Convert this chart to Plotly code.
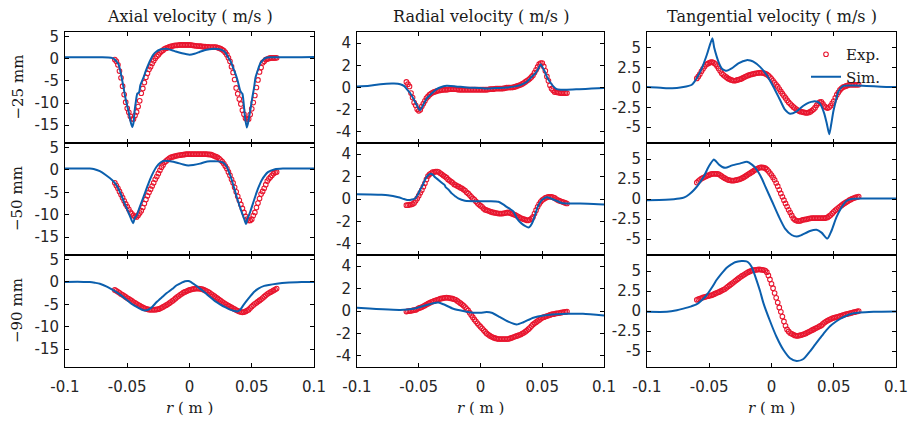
import plotly.graph_objects as go

# ---------------- data (r in mm, velocities in m/s) ----------------
# Experimental points are read at two interleaved r grids (main + midpoints)
R_EXP_MM = [-60, -57.5, -55, -52.5, -50, -47.5, -45, -42.5, -40, -37.5, -35, -32.5, -30, -27.5, -25,
            -22.5, -20, -17.5, -15, -12.5, -10, -7.5, -5, -2.5, 0, 2.5, 5, 7.5, 10, 12.5, 15, 17.5,
            20, 22.5, 25, 27.5, 30, 32.5, 35, 37.5, 40, 42.5, 45, 47.5, 50, 52.5, 55, 57.5, 60,
            62.5, 65, 67.5, 70]
R_EXP_MID_MM = [-58.75, -56.25, -53.75, -51.25, -48.75, -46.25, -43.75, -41.25, -38.75, -36.25, -33.75,
                -31.25, -28.75, -26.25, -23.75, -21.25, -18.75, -16.25, -13.75, -11.25, -8.75, -6.25,
                -3.75, -1.25, 1.25, 3.75, 6.25, 8.75, 11.25, 13.75, 16.25, 18.75, 21.25, 23.75, 26.25,
                28.75, 31.25, 33.75, 36.25, 38.75, 41.25, 43.75, 46.25, 48.75, 51.25, 53.75, 56.25,
                58.75, 61.25, 63.75, 66.25, 68.75]

EXP_AX_25 = [-0.2, -1.4, -4.3, -8.1, -11.2, -13.0, -13.6, -12.0, -9.5, -6.7, -4.2, -2.4, -1.1, 0.1, 0.9,
             1.65, 2.2, 2.5, 2.75, 2.95, 3.0, 3.1, 3.1, 3.1, 3.1, 3.0, 2.9, 2.85, 2.75, 2.7, 2.65, 2.6,
             2.6, 2.5, 2.25, 1.8, 0.9, -0.6, -3.1, -6.6, -9.1, -11.6, -13.4, -13.6, -11.3, -8.3, -4.8,
             -2.0, -0.6, -0.1, 0.15, 0.15, 0.2]
EXP_AX_25_MID = [-0.6, -2.8, -6.2, -9.8, -12.1, -13.6, -12.8, -10.8, -7.8, -5.4, -3.3, -1.8, -0.5, 0.55,
                 1.3, 1.9, 2.35, 2.65, 2.85, 3.0, 3.05, 3.1, 3.1, 3.1, 3.05, 2.95, 2.85, 2.8, 2.7, 2.65,
                 2.6, 2.6, 2.6, 2.4, 2.05, 1.4, 0.2, -1.8, -4.7, -7.9, -10.2, -12.5, -13.7, -12.6, -9.9,
                 -6.5, -3.0, -0.9, -0.2, 0.05, 0.15, 0.15]
EXP_AX_50 = [-2.9, -4.1, -5.5, -6.9, -8.2, -9.4, -10.2, -10.5, -9.6, -8.4, -6.6, -5.0, -3.6, -2.1, -0.8,
             0.6, 1.7, 2.3, 2.8, 3.0, 3.2, 3.3, 3.4, 3.5, 3.5, 3.5, 3.5, 3.5, 3.5, 3.5, 3.45, 3.4,
             3.1, 2.8, 2.2, 1.4, 0.3, -1.2, -2.9, -4.9, -6.8, -8.6, -10.4, -11.3, -11.0, -9.5, -7.4,
             -5.4, -4.1, -2.5, -1.6, -0.8, -0.5]
EXP_AX_50_MID = [-3.5, -4.8, -6.2, -7.6, -8.8, -9.8, -10.4, -10.1, -9.1, -7.5, -5.8, -4.3, -2.9, -1.5,
                 -0.1, 1.1, 2.0, 2.6, 2.9, 3.1, 3.25, 3.35, 3.45, 3.5, 3.5, 3.5, 3.5, 3.5, 3.5, 3.5,
                 3.45, 3.25, 2.95, 2.5, 1.85, 0.85, -0.45, -2.1, -3.9, -5.9, -7.7, -9.5, -11.0, -11.3,
                 -10.2, -8.4, -6.4, -4.8, -3.3, -2.0, -1.2, -0.6]
EXP_AX_90 = [-1.8, -2.2, -2.7, -3.1, -3.6, -4.0, -4.5, -4.9, -5.3, -5.7, -6.0, -6.2, -6.2, -6.2, -6.1,
             -5.8, -5.4, -5.0, -4.5, -4.0, -3.4, -2.9, -2.4, -2.1, -1.8, -1.6, -1.5, -1.5, -1.6, -1.9,
             -2.2, -2.7, -3.2, -3.7, -4.2, -4.7, -5.1, -5.5, -5.9, -6.3, -6.6, -6.8, -6.6, -6.2, -5.5,
             -4.9, -4.4, -3.9, -3.3, -2.7, -2.3, -1.9, -1.5]
EXP_AX_90_MID = [-2.0, -2.45, -2.9, -3.35, -3.8, -4.25, -4.7, -5.1, -5.5, -5.85, -6.1, -6.2, -6.2, -6.15,
                 -5.95, -5.6, -5.2, -4.75, -4.25, -3.7, -3.15, -2.65, -2.25, -1.95, -1.7, -1.55, -1.5,
                 -1.55, -1.75, -2.05, -2.45, -2.95, -3.45, -3.95, -4.45, -4.9, -5.3, -5.7, -6.1, -6.45,
                 -6.7, -6.75, -6.4, -5.85, -5.2, -4.65, -4.15, -3.6, -3.0, -2.5, -2.1, -1.7]
EXP_RA_25 = [0.5, 0.1, -0.9, -1.6, -2.1, -1.7, -1.2, -0.8, -0.55, -0.4, -0.3, -0.25, -0.2, -0.2, -0.15,
             -0.15, -0.15, -0.2, -0.2, -0.2, -0.2, -0.2, -0.2, -0.2, -0.2, -0.2, -0.2, -0.15, -0.15,
             -0.1, -0.1, -0.1, -0.05, 0, 0, 0.05, 0.15, 0.25, 0.4, 0.6, 0.8, 1.1, 1.6, 2.1, 2.2, 1.5,
             0.6, -0.1, -0.4, -0.45, -0.5, -0.5, -0.5]
EXP_RA_25_MID = [0.3, -0.5, -1.35, -1.95, -2.0, -1.45, -0.95, -0.65, -0.45, -0.35, -0.28, -0.22, -0.2,
                 -0.18, -0.15, -0.15, -0.18, -0.2, -0.2, -0.2, -0.2, -0.2, -0.2, -0.2, -0.2, -0.2,
                 -0.18, -0.15, -0.12, -0.1, -0.1, -0.08, -0.02, 0, 0.02, 0.1, 0.2, 0.32, 0.5, 0.7, 0.95,
                 1.35, 1.85, 2.2, 1.9, 1.0, 0.2, -0.25, -0.42, -0.48, -0.5, -0.5]
EXP_RA_50 = [-0.55, -0.5, -0.45, -0.15, 0.3, 0.8, 1.4, 2.05, 2.3, 2.4, 2.45, 2.3, 2.1, 1.9, 1.65, 1.45,
             1.25, 1.1, 0.95, 0.75, 0.5, 0.2, -0.05, -0.35, -0.6, -0.85, -1.0, -1.1, -1.2, -1.25, -1.3,
             -1.3, -1.25, -1.2, -1.3, -1.4, -1.55, -1.7, -1.8, -1.9, -1.85, -1.6, -1.0, -0.45, -0.1,
             0.1, 0.2, 0.2, 0.1, -0.1, -0.2, -0.3, -0.4]
EXP_RA_50_MID = [-0.55, -0.5, -0.35, 0.05, 0.55, 1.1, 1.75, 2.2, 2.4, 2.45, 2.4, 2.2, 2.0, 1.75, 1.55,
                 1.3, 1.15, 1.0, 0.85, 0.6, 0.35, 0.05, -0.2, -0.5, -0.7, -0.95, -1.05, -1.15, -1.22,
                 -1.28, -1.3, -1.28, -1.22, -1.25, -1.35, -1.45, -1.62, -1.75, -1.85, -1.9, -1.75, -1.3,
                 -0.7, -0.25, 0, 0.15, 0.2, 0.15, 0, -0.15, -0.25, -0.35]
EXP_RA_90 = [-0.05, 0, 0.05, 0.1, 0.25, 0.35, 0.5, 0.65, 0.8, 0.9, 1.0, 1.1, 1.15, 1.2, 1.15, 1.1, 1.0,
             0.8, 0.6, 0.35, 0.05, -0.35, -0.75, -1.1, -1.4, -1.7, -2.0, -2.2, -2.35, -2.45, -2.5,
             -2.5, -2.5, -2.5, -2.4, -2.3, -2.2, -2.1, -1.95, -1.75, -1.5, -1.2, -1.0, -0.8, -0.6,
             -0.5, -0.4, -0.3, -0.25, -0.2, -0.15, -0.1, -0.05]
EXP_RA_90_MID = [-0.02, 0.02, 0.08, 0.17, 0.3, 0.42, 0.58, 0.72, 0.85, 0.95, 1.05, 1.12, 1.18, 1.18, 1.12,
                 1.05, 0.9, 0.7, 0.48, 0.2, -0.15, -0.55, -0.92, -1.25, -1.55, -1.85, -2.1, -2.28, -2.4,
                 -2.48, -2.5, -2.5, -2.5, -2.45, -2.35, -2.25, -2.15, -2.02, -1.85, -1.62, -1.35, -1.1,
                 -0.9, -0.7, -0.55, -0.45, -0.35, -0.28, -0.22, -0.18, -0.12, -0.08]
EXP_TA_25 = [1.15, 1.7, 2.35, 2.9, 3.1, 3.2, 2.95, 2.4, 1.8, 1.45, 1.15, 0.95, 0.85, 0.95, 1.05, 1.25,
             1.45, 1.6, 1.7, 1.8, 1.85, 1.85, 1.75, 1.5, 1.1, 0.6, 0.1, -0.5, -1.05, -1.6, -2.05,
             -2.45, -2.75, -3.0, -3.1, -3.2, -3.15, -2.9, -2.55, -2.0, -1.8, -2.35, -2.6, -2.3, -1.7,
             -0.9, -0.3, 0.05, 0.2, 0.35, 0.35, 0.35, 0.35]
EXP_TA_25_MID = [1.4, 2.05, 2.65, 3.0, 3.2, 3.1, 2.7, 2.1, 1.6, 1.3, 1.05, 0.9, 0.88, 1.0, 1.15, 1.35,
                 1.52, 1.65, 1.75, 1.83, 1.87, 1.82, 1.65, 1.32, 0.85, 0.35, -0.2, -0.78, -1.32, -1.85,
                 -2.25, -2.6, -2.88, -3.05, -3.15, -3.2, -3.05, -2.75, -2.25, -1.85, -2.05, -2.5, -2.5,
                 -2.0, -1.3, -0.6, -0.1, 0.12, 0.28, 0.35, 0.35, 0.35]
EXP_TA_50 = [2.05, 2.4, 2.65, 2.85, 3.0, 3.15, 3.15, 3.1, 2.85, 2.6, 2.4, 2.3, 2.3, 2.4, 2.5, 2.7, 2.95,
             3.2, 3.45, 3.7, 3.9, 3.95, 3.85, 3.5, 3.0, 2.4, 1.6, 0.7, -0.15, -0.95, -1.7, -2.4, -2.7,
             -2.75, -2.6, -2.55, -2.45, -2.4, -2.4, -2.4, -2.4, -2.4, -2.3, -2.0, -1.6, -1.25, -0.95,
             -0.65, -0.4, -0.15, 0.05, 0.2, 0.3]
EXP_TA_50_MID = [2.25, 2.55, 2.75, 2.95, 3.1, 3.15, 3.15, 3.0, 2.72, 2.5, 2.35, 2.3, 2.35, 2.45, 2.6, 2.82,
                 3.08, 3.32, 3.58, 3.8, 3.95, 3.92, 3.7, 3.25, 2.7, 2.0, 1.15, 0.28, -0.55, -1.35, -2.05,
                 -2.6, -2.75, -2.7, -2.57, -2.5, -2.42, -2.4, -2.4, -2.4, -2.4, -2.35, -2.15, -1.8,
                 -1.42, -1.1, -0.8, -0.52, -0.28, -0.05, 0.12, 0.25]
EXP_TA_90 = [1.4, 1.55, 1.7, 1.8, 1.9, 2.0, 2.2, 2.35, 2.55, 2.75, 3.05, 3.35, 3.65, 3.95, 4.25, 4.5,
             4.75, 4.95, 5.1, 5.15, 5.2, 5.15, 5.05, 4.45, 3.4, 2.25, 1.05, -0.1, -1.3, -2.3, -2.75,
             -2.95, -3.1, -3.05, -2.95, -2.8, -2.6, -2.4, -2.2, -2.0, -1.8, -1.45, -1.2, -1.0, -0.85,
             -0.75, -0.65, -0.5, -0.4, -0.3, -0.2, -0.1, 0]
EXP_TA_90_MID = [1.48, 1.62, 1.75, 1.85, 1.95, 2.1, 2.28, 2.45, 2.65, 2.9, 3.2, 3.5, 3.8, 4.1, 4.38, 4.62,
                 4.85, 5.02, 5.12, 5.18, 5.18, 5.12, 4.85, 3.95, 2.85, 1.65, 0.45, -0.7, -1.85, -2.55,
                 -2.85, -3.05, -3.1, -3.0, -2.88, -2.7, -2.5, -2.3, -2.1, -1.9, -1.62, -1.32, -1.1,
                 -0.92, -0.8, -0.7, -0.58, -0.45, -0.35, -0.25, -0.15, -0.05]

SIM_AX_25_R = [-100, -90, -80, -70, -63, -61, -59, -57, -55, -53, -51, -49, -47.5, -46, -45, -44, -43, -42,
               -41.5, -40.5, -39.5, -37, -35, -33, -31, -29, -26.5, -24, -21, -18, -14, -11, -6, 0, 4,
               8, 12, 16, 20, 24, 27, 29, 31, 33, 35, 37, 39, 40.5, 41.5, 42.5, 43.5, 44.5, 46, 47, 48,
               49.5, 50.5, 52, 53, 55, 57, 59, 61, 65, 70, 80, 90, 100]
SIM_AX_25_V = [0.3, 0.3, 0.3, 0.3, 0.2, 0.0, -0.5, -1.3, -3.5, -6.5, -9.5, -11.8, -14, -15.4, -14.5,
               -11.6, -9.5, -7.9, -7.8, -7.6, -6, -4.3, -2.7, -1.3, -0.1, 0.9, 1.6, 2.0, 2.2, 2.2, 1.9,
               1.6, 1.2, 0.9, 1.1, 1.5, 1.9, 2.1, 2.2, 2.1, 1.8, 1.3, 0.3, -0.6, -2, -3.5, -5.3, -7.0,
               -7.6, -7.9, -10, -13, -15.5, -14.5, -13, -10.5, -8.7, -6.3, -4.3, -2.5, -1, -0.3, 0.15,
               0.3, 0.3, 0.3, 0.3, 0.35]
SIM_AX_50_R = [-100, -80, -77, -72, -67, -62, -58.5, -55, -52, -48, -45.3, -44, -42.5, -40, -37, -34,
               -31.5, -29, -26.5, -23.5, -21, -17, -13, -10, -5, -1, 3, 8.4, 12, 16.5, 23, 27, 30, 32,
               34, 38, 42, 44, 45.4, 46.5, 48.6, 52.6, 55, 58, 63, 68.7, 75, 100]
SIM_AX_50_V = [0.3, 0.3, 0.2, -0.3, -1.2, -2.3, -3.5, -5.5, -7.6, -10.2, -11.9, -10.8, -10.2, -8.3, -6.1,
               -3.8, -2, -0.5, 0.7, 1.6, 2.0, 2.0, 1.8, 1.6, 1.2, 1.0, 1.1, 1.4, 1.7, 1.9, 1.9, 1.6, 0.7,
               -0.7, -2.3, -6.1, -9.5, -11.0, -12.1, -11, -9.5, -6.1, -4.2, -2.3, -0.5, 0.15, 0.3, 0.3]
SIM_AX_90_R = [-100, -85, -80, -76, -72, -66, -61, -55.5, -50.5, -46, -42.4, -39, -36, -33, -30, -26.4,
               -22, -18.3, -14, -10.3, -6.5, -3.6, -1, 1, 3, 5.5, 8.4, 12, 16.5, 20.5, 24.5, 29, 32.6,
               36, 38.5, 40.5, 43.3, 46, 48.6, 52, 55.3, 60, 70, 80, 90, 100]
SIM_AX_90_V = [0, 0, -0.05, -0.2, -0.4, -1.1, -1.9, -2.9, -4.0, -5.0, -5.6, -6.1, -6.4, -6.2, -5.6, -4.5,
               -3.4, -2.5, -1.6, -0.75, -0.2, 0.15, 0.2, 0.0, -0.4, -0.9, -1.5, -2.3, -3.4, -4.3, -5.0,
               -5.7, -6.2, -6.5, -6.6, -6.3, -5.2, -4.2, -3.3, -2.2, -1.5, -0.9, -0.4, -0.15, -0.05, 0]
SIM_RA_25_R = [-100, -90, -81, -70, -65, -62, -60, -57, -54.4, -51.5, -49, -46.5, -43.6, -41, -38.2, -35.5,
               -32.8, -27.4, -20, -11, 0, 5, 12, 21, 28, 32, 35, 37.4, 40, 42.8, 44.5, 46.8, 48.7, 50.3,
               52.2, 54, 56.3, 59, 61.7, 65, 70, 80, 90, 100]
SIM_RA_25_V = [0.08, 0.15, 0.3, 0.35, 0.3, 0.15, -0.1, -0.5, -1.0, -1.6, -2.05, -1.6, -1.0, -0.7, -0.4,
               -0.15, 0, 0.15, 0.1, 0, -0.05, -0.1, -0.05, 0, 0.1, 0.2, 0.35, 0.5, 0.8, 1.1, 1.3, 1.7,
               2.1, 1.8, 1.4, 0.9, 0.5, 0.1, -0.15, -0.2, -0.2, -0.15, -0.1, -0.05]
SIM_RA_50_R = [-100, -90, -80, -75, -66.5, -62, -58.4, -55.5, -53, -51, -49, -47, -45, -43, -40.5, -38.5,
               -36.8, -34, -31.4, -29, -28.2, -26, -23.3, -20.5, -18, -12.6, 0, 8, 14.5, 18, 21.2, 24,
               26.6, 28, 29.3, 31, 33.4, 36, 38.8, 40.5, 42.8, 44.5, 46.3, 48, 49.6, 51.5, 53.6, 57,
               60.3, 65.7, 73.8, 87, 100]
SIM_RA_50_V = [0.42, 0.4, 0.37, 0.33, 0.15, 0, -0.1, -0.05, 0.05, 0.35, 0.8, 1.2, 1.7, 2.05, 2.25, 2.15,
               1.95, 1.7, 1.45, 1.25, 1.05, 0.85, 0.5, 0.25, 0.05, -0.15, -0.2, -0.2, -0.25, -0.45,
               -0.7, -0.9, -1.1, -1.4, -1.7, -1.95, -2.2, -2.4, -2.55, -2.4, -1.9, -1.3, -0.7, -0.35,
               -0.1, 0.05, 0.15, 0.05, -0.1, -0.35, -0.4, -0.42, -0.48]
SIM_RA_90_R = [-100, -90, -79, -65, -54.4, -46.3, -38.2, -34, -30, -22, -14, -6, 0, 5, 9, 15.8, 22.5,
               29.3, 34.7, 42.8, 51, 61.7, 70, 83, 100]
SIM_RA_90_V = [0.3, 0.22, 0.15, 0.1, 0.2, 0.45, 0.7, 0.75, 0.6, 0.2, 0, -0.15, -0.15, -0.1, -0.15, -0.55,
               -0.95, -1.2, -1.0, -0.6, -0.4, -0.3, -0.25, -0.25, -0.4]
SIM_TA_25_R = [-100, -92, -84, -76, -70.8, -66.5, -64, -62, -60, -56, -52, -47.5, -46, -44, -42, -40, -38,
               -36, -32, -26.6, -20, -17, -14.6, -9.2, -3.9, 1.5, 6.8, 10.8, 14.9, 20.2, 25.6, 30, 33.6,
               37, 39, 42.2, 44.5, 46.4, 48, 49.7, 51.5, 53.7, 57.7, 65.7, 76.4, 88, 100]
SIM_TA_25_V = [0.05, 0, -0.1, -0.05, 0.05, 0.2, 0.35, 0.7, 1.2, 2.4, 4.1, 6.2, 5.0, 3.9, 3.0, 2.4, 2.2,
               2.1, 2.4, 3.05, 3.45, 3.4, 3.25, 2.6, 1.6, 0.1, -1.55, -2.8, -3.3, -3.0, -2.3, -1.9,
               -1.75, -1.8, -2.05, -3.2, -4.6, -5.9, -4.6, -3.0, -1.8, -0.5, 0.2, 0.25, 0.2, 0.1, 0.05]
SIM_TA_50_R = [-100, -85, -74, -70, -66, -62.5, -59.6, -54.3, -50.3, -46.3, -44.5, -42.3, -39.5, -37,
               -31.6, -25, -19.7, -15.7, -13, -10.4, -7.6, -5.1, 0.3, 5.6, 10.9, 16.2, 20.2, 24.2, 30.9,
               36.2, 40.2, 44.9, 48.1, 52.1, 56.1, 60.1, 64.1, 75, 100]
SIM_TA_50_V = [-0.15, -0.1, 0.05, 0.2, 0.6, 1.1, 1.6, 2.85, 4.1, 4.95, 4.7, 4.3, 4.0, 3.9, 4.2, 4.45,
               4.65, 4.3, 3.9, 3.3, 2.5, 1.6, -0.25, -2.1, -3.7, -4.5, -4.7, -4.5, -4.0, -3.85, -4.2,
               -4.95, -4.0, -2.3, -1.1, -0.25, 0, 0.05, 0.05]
SIM_TA_90_R = [-100, -84, -76, -70.8, -65, -60, -56, -52, -48, -44, -40, -36, -32, -29.3, -24, -20, -17.5,
               -15.9, -13.9, -11.9, -9.2, -6.6, -1.2, 4.1, 9.5, 14.9, 20.2, 25.6, 30.9, 35, 39, 43, 47,
               51, 55, 63, 71, 82, 100]
SIM_TA_90_V = [-0.1, -0.1, 0.1, 0.3, 0.55, 0.85, 1.35, 2.0, 2.9, 3.9, 4.7, 5.4, 5.85, 6.1, 6.25, 6.2, 5.9,
               5.5, 4.7, 3.8, 2.5, 1.05, -1.25, -3.25, -4.85, -5.9, -6.25, -6.0, -5.05, -4.2, -3.4,
               -2.6, -1.9, -1.4, -1.0, -0.4, -0.2, -0.1, -0.05]

COL_TITLES = ["Axial velocity ( m/s )", "Radial velocity ( m/s )", "Tangential velocity ( m/s )"]
ROW_TITLES = ["\u221225 mm", "\u221250 mm", "\u221290 mm"]
X_TICKS = [-0.1, -0.05, 0, 0.05, 0.1]
X_TICKTEXT = ["-0.1", "-0.05", "0", "0.05", "0.1"]
Y_TICKS = [[5, 0, -5, -10, -15], [4, 2, 0, -2, -4], [5, 2.5, 0, -2.5, -5]]
Y_TICKTEXT = [["5", "0", "-5", "-10", "-15"], ["4", "2", "0", "-2", "-4"], ["5", "2.5", "0", "-2.5", "-5"]]
Y_RANGES = [[-19, 6], [-5, 5], [-7, 7]]

EXP = [[(EXP_AX_25, EXP_AX_25_MID), (EXP_RA_25, EXP_RA_25_MID), (EXP_TA_25, EXP_TA_25_MID)],
       [(EXP_AX_50, EXP_AX_50_MID), (EXP_RA_50, EXP_RA_50_MID), (EXP_TA_50, EXP_TA_50_MID)],
       [(EXP_AX_90, EXP_AX_90_MID), (EXP_RA_90, EXP_RA_90_MID), (EXP_TA_90, EXP_TA_90_MID)]]
SIM = [[(SIM_AX_25_R, SIM_AX_25_V), (SIM_RA_25_R, SIM_RA_25_V), (SIM_TA_25_R, SIM_TA_25_V)],
       [(SIM_AX_50_R, SIM_AX_50_V), (SIM_RA_50_R, SIM_RA_50_V), (SIM_TA_50_R, SIM_TA_50_V)],
       [(SIM_AX_90_R, SIM_AX_90_V), (SIM_RA_90_R, SIM_RA_90_V), (SIM_TA_90_R, SIM_TA_90_V)]]

# ---------------- layout / style ----------------
W, H = 913, 421
COL_PX = [(65, 314), (357, 604), (647, 896)]
ROW_PX = [(32, 143), (143, 255), (255, 367)]
RED = "#e8152e"
BLUE = "#0b5fad"
TICK_FONT = dict(family="DejaVu Sans, sans-serif", size=15, color="#262626")
SERIF = "DejaVu Serif, serif"

fig = go.Figure()
layout = dict(width=W, height=H, margin=dict(l=0, r=0, t=0, b=0),
              paper_bgcolor="white", plot_bgcolor="white", showlegend=True)

for i in range(3):
    for j in range(3):
        idx = i * 3 + j + 1
        xa = "x" if idx == 1 else f"x{idx}"
        ya = "y" if idx == 1 else f"y{idx}"
        exp_main, exp_mid = EXP[i][j]
        sr, sv = SIM[i][j]
        assert len(exp_main) == len(R_EXP_MM), (i, j, len(exp_main))
        assert len(exp_mid) == len(R_EXP_MID_MM), (i, j, len(exp_mid))
        assert len(sr) == len(sv), (i, j, len(sr), len(sv))
        pts = sorted(zip(R_EXP_MM + R_EXP_MID_MM, exp_main + exp_mid))
        fig.add_trace(go.Scatter(
            x=[p[0] / 1000 for p in pts], y=[p[1] for p in pts], mode="markers", name="Exp.",
            marker=dict(symbol="circle-open", size=4.6, color=RED, line=dict(width=1.1, color=RED)),
            xaxis=xa, yaxis=ya, showlegend=(idx == 3), legendrank=1))
        fig.add_trace(go.Scatter(
            x=[r / 1000 for r in sr], y=sv, mode="lines", name="Sim.",
            line=dict(color=BLUE, width=2, shape="spline", smoothing=0.6), xaxis=xa, yaxis=ya,
            showlegend=(idx == 3), legendrank=2))

        x0, x1 = COL_PX[j]
        y0, y1 = ROW_PX[i]
        common = dict(showline=True, linecolor="black", linewidth=1, mirror="ticks",
                      ticks="inside", ticklen=4, tickwidth=1, tickcolor="black",
                      showgrid=False, zeroline=False, tickfont=TICK_FONT, automargin=False,
                      fixedrange=True)
        layout["xaxis" if idx == 1 else f"xaxis{idx}"] = dict(
            common, domain=[x0 / W, x1 / W], range=[-0.1, 0.1], anchor=ya,
            tickmode="array", tickvals=X_TICKS, ticktext=X_TICKTEXT,
            showticklabels=(i == 2), ticklabelstandoff=6)
        layout["yaxis" if idx == 1 else f"yaxis{idx}"] = dict(
            common, domain=[1 - y1 / H, 1 - y0 / H], range=Y_RANGES[j], anchor=xa,
            tickmode="array", tickvals=Y_TICKS[j], ticktext=Y_TICKTEXT[j],
            showticklabels=True, ticklabelstandoff=2)

annotations = []
for j in range(3):
    cx = (COL_PX[j][0] + COL_PX[j][1]) / 2 / W
    annotations.append(dict(text=COL_TITLES[j], x=cx, y=1 - 16 / H, xref="paper", yref="paper",
                            xanchor="center", yanchor="middle", showarrow=False,
                            font=dict(family=SERIF, size=16, color="#1a1a1a")))
    annotations.append(dict(text="<i>r</i> ( m )", x=cx, y=1 - 408 / H, xref="paper", yref="paper",
                            xanchor="center", yanchor="middle", showarrow=False,
                            font=dict(family=SERIF, size=15, color="#1a1a1a")))
for i in range(3):
    cy = 1 - (ROW_PX[i][0] + ROW_PX[i][1]) / 2 / H
    annotations.append(dict(text=ROW_TITLES[i], x=17 / W, y=cy, xref="paper", yref="paper",
                            xanchor="center", yanchor="middle", showarrow=False, textangle=-90,
                            font=dict(family=SERIF, size=15, color="#1a1a1a")))
layout["annotations"] = annotations
layout["legend"] = dict(x=806 / W, y=1 - 38 / H, xanchor="left", yanchor="top",
                        bgcolor="rgba(0,0,0,0)", borderwidth=0, tracegroupgap=0,
                        font=dict(family=SERIF, size=15, color="#1a1a1a"))
fig.update_layout(**layout)
fig.write_html("out.html", config={"displayModeBar": False})
